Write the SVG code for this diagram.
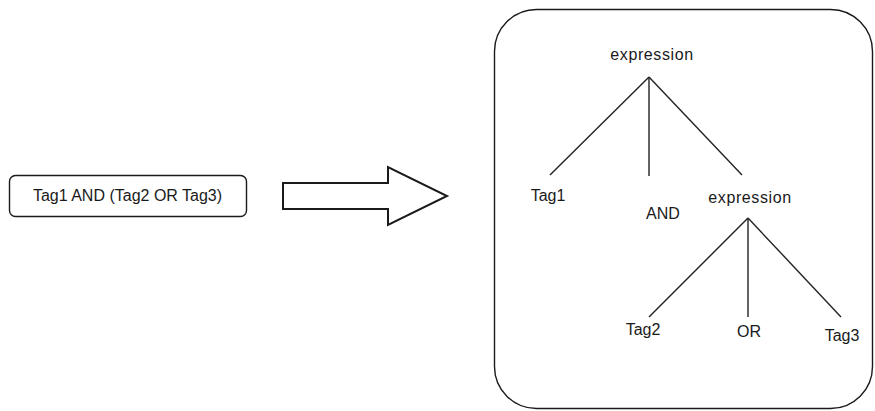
<svg xmlns="http://www.w3.org/2000/svg" width="875" height="411" viewBox="0 0 875 411">
  <style>
    text { font-family: "Liberation Sans", Arial, sans-serif; font-size: 16px; fill: #1a1a1a; text-anchor: middle; }
    .box { fill: #ffffff; stroke: #1a1a1a; stroke-width: 1.4; }
    .edge { stroke: #222222; stroke-width: 1.4; fill: none; }
    .wide { letter-spacing: 0.6px; }
  </style>
  <rect width="875" height="411" fill="#ffffff"/>

  <!-- source expression -->
  <g id="input">
    <rect class="box" x="9.5" y="175.5" width="237" height="41" rx="6"/>
    <text x="127.5" y="201">Tag1 AND (Tag2 OR Tag3)</text>
  </g>

  <!-- transform arrow -->
  <g id="transform-arrow">
    <polygon points="283,183 388,183 388,167 447,196 388,225 388,209 283,209" fill="#ffffff" stroke="#1a1a1a" stroke-width="2" stroke-linejoin="miter"/>
  </g>

  <!-- parse tree frame -->
  <g id="tree-frame">
    <rect class="box" x="494.5" y="9.5" width="378" height="399" rx="42"/>
  </g>

  <!-- tree edges -->
  <g id="edges">
    <line class="edge" x1="649" y1="77" x2="550" y2="175"/>
    <line class="edge" x1="649" y1="77" x2="649" y2="176"/>
    <line class="edge" x1="649" y1="77" x2="742" y2="175"/>
    <line class="edge" x1="748" y1="218" x2="649" y2="317"/>
    <line class="edge" x1="748" y1="218" x2="748" y2="317"/>
    <line class="edge" x1="748" y1="218" x2="841" y2="317"/>
  </g>

  <!-- tree nodes -->
  <g id="root-expression"><text class="wide" x="652" y="60">expression</text></g>
  <g id="tag1"><text x="548" y="201">Tag1</text></g>
  <g id="and"><text x="663" y="219">AND</text></g>
  <g id="sub-expression"><text class="wide" x="750" y="203">expression</text></g>
  <g id="tag2"><text x="643" y="335">Tag2</text></g>
  <g id="or"><text x="749" y="337">OR</text></g>
  <g id="tag3"><text x="842" y="341">Tag3</text></g>
</svg>
